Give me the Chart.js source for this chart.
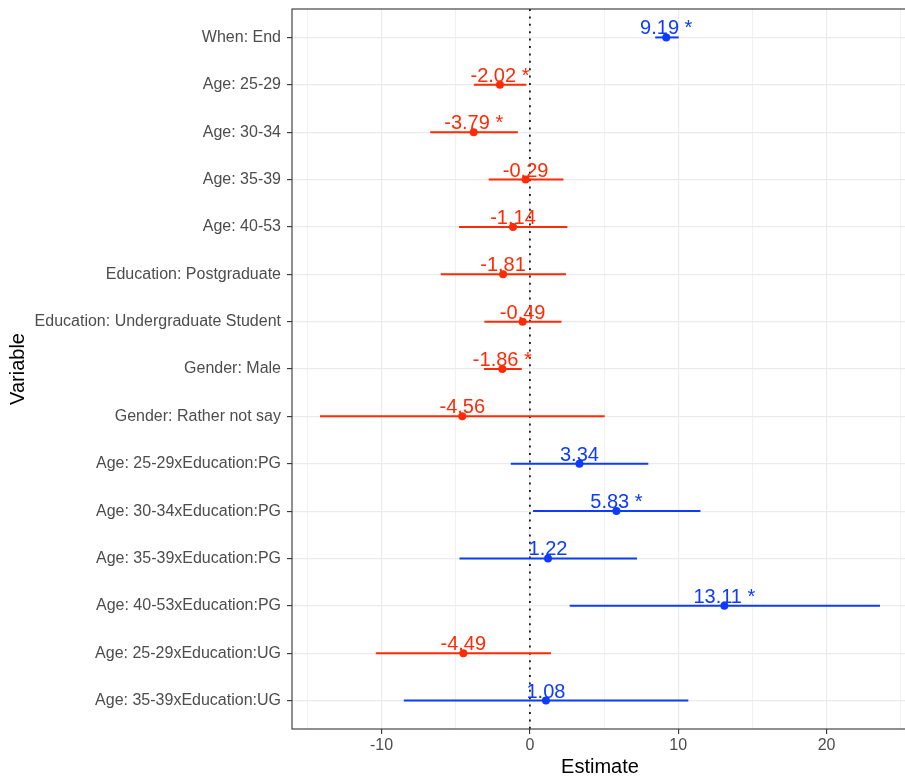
<!DOCTYPE html>
<html>
<head>
<meta charset="utf-8">
<script src="https://cdn.jsdelivr.net/npm/chart.js@4/dist/chart.umd.min.js"></script>
<style>
  html, body { margin: 0; padding: 0; background: #fff; overflow: hidden; }
  #wrap { width: 905px; height: 780px; overflow: hidden; }
</style>
</head>
<body>
<div id="wrap"><canvas id="forest" width="912" height="780"></canvas></div>
<script>
// variables, top to bottom
const variables = [
    'When: End',
    'Age: 25-29',
    'Age: 30-34',
    'Age: 35-39',
    'Age: 40-53',
    'Education: Postgraduate',
    'Education: Undergraduate Student',
    'Gender: Male',
    'Gender: Rather not say',
    'Age: 25-29xEducation:PG',
    'Age: 30-34xEducation:PG',
    'Age: 35-39xEducation:PG',
    'Age: 40-53xEducation:PG',
    'Age: 25-29xEducation:UG',
    'Age: 35-39xEducation:UG'
];
const estimate = [9.19, -2.02, -3.79, -0.29, -1.14, -1.81, -0.49, -1.86, -4.56, 3.34, 5.83, 1.22, 13.11, -4.49, 1.08];
const lower    = [8.45, -3.78, -6.72, -2.78, -4.78, -6.01, -3.07, -3.10, -14.15, -1.29, 0.21, -4.75, 2.68, -10.39, -8.50];
const upper    = [10.03, -0.24, -0.81, 2.26, 2.52, 2.44, 2.13, -0.55, 5.04, 7.98, 11.50, 7.22, 23.60, 1.42, 10.68];
const significant = [true, true, true, false, false, false, false, true, false, false, true, false, true, false, false];
const xTickValues = [-15, -10, -5, 0, 5, 10, 15, 20, 25];

const RED = '#ff2b06';
const BLUE = '#0d3bff';
const FONT = '"Liberation Sans", Arial, Helvetica, sans-serif';

function colorFor(v) {
    return v < 0 ? RED : BLUE;
}

// one line dataset per confidence interval
const ciSets = variables.map(function(v, i) {
    return {
        type: 'line',
        data: [{x: lower[i], y: i + 1}, {x: upper[i], y: i + 1}],
        borderColor: colorFor(estimate[i]),
        borderWidth: 2,
        pointRadius: 0,
        fill: false
    };
});

const pointSet = {
    type: 'scatter',
    data: estimate.map(function(e, i) { return {x: e, y: i + 1}; }),
    pointRadius: 4,
    pointBorderWidth: 0,
    pointBackgroundColor: estimate.map(colorFor),
    pointBorderColor: estimate.map(colorFor)
};

// dotted zero line + value labels + panel border
const forestExtras = {
    id: 'forestExtras',
    beforeDatasetsDraw(chart) {
        const ctx = chart.ctx;
        const area = chart.chartArea;
        const x0 = chart.scales.x.getPixelForValue(0);
        ctx.save();
        ctx.strokeStyle = '#000';
        ctx.lineWidth = 1.6;
        ctx.setLineDash([2, 5.4]);
        ctx.beginPath();
        ctx.moveTo(x0, area.top);
        ctx.lineTo(x0, area.bottom);
        ctx.stroke();
        ctx.restore();
    },
    afterDatasetsDraw(chart) {
        const ctx = chart.ctx;
        const xs = chart.scales.x;
        const ys = chart.scales.y;
        ctx.save();
        ctx.font = '20px ' + FONT;
        ctx.textAlign = 'center';
        ctx.textBaseline = 'alphabetic';
        estimate.forEach(function(e, i) {
            const txt = e.toFixed(2) + (significant[i] ? ' *' : '');
            ctx.fillStyle = colorFor(e);
            ctx.fillText(txt, xs.getPixelForValue(e), ys.getPixelForValue(i + 1) - 3);
        });
        const a = chart.chartArea;
        ctx.strokeStyle = '#333333';
        ctx.lineWidth = 1.1;
        ctx.strokeRect(a.left, a.top, a.right - a.left, a.bottom - a.top);
        ctx.restore();
    }
};

const config = {
    type: 'scatter',
    data: { datasets: ciSets.concat([pointSet]) },
    options: {
        responsive: false,
        animation: false,
        devicePixelRatio: 1,
        layout: { padding: { top: 9, right: 1, left: 0, bottom: 0 } },
        plugins: {
            legend: { display: false },
            tooltip: { enabled: false }
        },
        scales: {
            x: {
                type: 'linear',
                min: -16.04,
                max: 25.49,
                afterBuildTicks: function(scale) {
                    scale.ticks = xTickValues.map(function(v) { return {value: v}; });
                },
                afterFit: function(scale) {
                    scale.height = 51;
                    scale.paddingLeft = 0;
                    scale.paddingRight = 0;
                },
                border: { display: false },
                grid: {
                    color: '#ebebeb',
                    lineWidth: function(c) { return c.tick && c.tick.value % 10 === 0 ? 1.2 : 0.7; },
                    tickLength: 5,
                    tickColor: function(c) { return c.tick && c.tick.value % 10 === 0 ? '#333333' : 'rgba(0,0,0,0)'; },
                    tickWidth: 1.1
                },
                ticks: {
                    padding: 2,
                    color: '#4d4d4d',
                    font: { family: FONT, size: 16 },
                    maxRotation: 0,
                    callback: function(v) { return v % 10 === 0 ? String(v) : ''; }
                },
                title: {
                    display: true,
                    text: 'Estimate',
                    color: '#000',
                    font: { family: FONT, size: 20 },
                    padding: { top: 0, bottom: 1 }
                }
            },
            y: {
                type: 'linear',
                reverse: true,
                min: 0.4,
                max: 15.6,
                afterBuildTicks: function(scale) {
                    scale.ticks = variables.map(function(v, i) { return {value: i + 1}; });
                },
                afterFit: function(scale) {
                    scale.width = 292;
                    scale.paddingTop = 0;
                    scale.paddingBottom = 0;
                },
                border: { display: false },
                grid: {
                    color: '#ebebeb',
                    lineWidth: 1.2,
                    tickLength: 5,
                    tickColor: '#333333',
                    tickWidth: 1.1
                },
                ticks: {
                    padding: 6,
                    autoSkip: false,
                    color: '#4d4d4d',
                    font: { family: FONT, size: 16 },
                    callback: function(v) { return variables[v - 1]; }
                },
                title: {
                    display: true,
                    text: 'Variable',
                    color: '#000',
                    font: { family: FONT, size: 20 },
                    padding: { top: 6, bottom: 0 }
                }
            }
        }
    },
    plugins: [forestExtras]
};

new Chart(document.getElementById('forest').getContext('2d'), config);
</script>
</body>
</html>
